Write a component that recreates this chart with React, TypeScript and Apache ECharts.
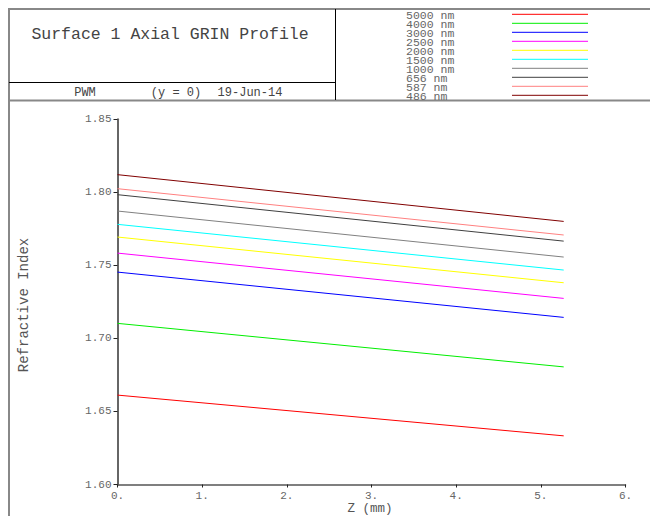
import React, { useEffect, useRef } from "react";
import * as echarts from "echarts";

const wavelengths = ["5000 nm", "4000 nm", "3000 nm", "2500 nm", "2000 nm", "1500 nm", "1000 nm", "656 nm", "587 nm", "486 nm"];
const colors = ["#ff0000", "#00ee00", "#0000ff", "#ff00ff", "#ffff00", "#00ffff", "#808080", "#404040", "#ff8080", "#800000"];
const zValues = [0, 5.27];
const indexAtStart = [1.6612, 1.7103, 1.7454, 1.7584, 1.7694, 1.7781, 1.7872, 1.7984, 1.8025, 1.8121];
const indexAtEnd = [1.6333, 1.6805, 1.7144, 1.7274, 1.7381, 1.7468, 1.7557, 1.7666, 1.7708, 1.7801];

const titleText = "Surface 1 Axial GRIN Profile";
const subtitleParts = ["PWM", "(y = 0)", "19-Jun-14"];
const yAxisTitle = "Refractive Index";
const xAxisTitle = "Z (mm)";

const MONO = "'Liberation Mono', 'DejaVu Sans Mono', monospace";
const TEXT = "#555";

export default function App() {
  const ref = useRef<HTMLDivElement>(null);
  useEffect(() => {
    if (!ref.current) return;
    const chart = echarts.init(ref.current, undefined, { renderer: "svg" });

    const series = wavelengths.map((name, i) => ({
      name,
      type: "line",
      data: [
        [zValues[0], indexAtStart[i]],
        [zValues[1], indexAtEnd[i]],
      ],
      showSymbol: false,
      symbol: "none",
      lineStyle: { color: colors[i], width: 1 },
      itemStyle: { color: colors[i] },
    }));

    const legendGraphics: any[] = [];
    wavelengths.forEach((name, i) => {
      const y = 14.3 + 9 * i;
      legendGraphics.push({
        type: "text",
        x: 406,
        y: y + 0.8,
        style: { text: name, fill: "#666", font: `11.5px ${MONO}`, textAlign: "left", textVerticalAlign: "middle" },
      });
      legendGraphics.push({
        type: "line",
        shape: { x1: 512, y1: y, x2: 588, y2: y },
        style: { stroke: colors[i], lineWidth: 1 },
      });
    });

    const frameColor = "#888";
    const subX = [85, 176, 250];

    chart.setOption({
      animation: false,
      backgroundColor: "#fff",
      grid: { left: 117.5, top: 119.3, right: 24.5, bottom: 31.5, containLabel: false },
      xAxis: {
        type: "value",
        min: 0,
        max: 6,
        interval: 1,
        axisLine: { show: true, lineStyle: { color: "#555", width: 1.5 } },
        axisTick: { show: true, length: 3, inside: false, lineStyle: { color: "#222" } },
        splitLine: { show: false },
        axisLabel: {
          color: "#666",
          fontFamily: MONO,
          fontSize: 11,
          margin: 6,
          formatter: (v: number) => `${v}.`,
        },
      },
      yAxis: {
        type: "value",
        min: 1.6,
        max: 1.85,
        interval: 0.05,
        axisLine: { show: true, lineStyle: { color: "#666", width: 2 } },
        axisTick: { show: true, length: 4, inside: false, lineStyle: { color: "#222" } },
        splitLine: { show: false },
        axisLabel: {
          color: "#666",
          fontFamily: MONO,
          fontSize: 11,
          margin: 6,
          formatter: (v: number) => v.toFixed(2),
        },
      },
      series,
      graphic: [
        { type: "line", shape: { x1: 8, y1: 9, x2: 650, y2: 9 }, style: { stroke: frameColor, lineWidth: 2 } },
        { type: "line", shape: { x1: 9, y1: 8, x2: 9, y2: 516 }, style: { stroke: frameColor, lineWidth: 2 } },
        { type: "line", shape: { x1: 8, y1: 100.5, x2: 650, y2: 100.5 }, style: { stroke: frameColor, lineWidth: 2 } },
        { type: "line", shape: { x1: 335.5, y1: 9, x2: 335.5, y2: 100 }, style: { stroke: "#000", lineWidth: 1 } },
        { type: "line", shape: { x1: 9, y1: 82.5, x2: 335.5, y2: 82.5 }, style: { stroke: "#000", lineWidth: 1 } },
        {
          type: "text",
          x: 170,
          y: 34,
          style: { text: titleText, fill: "#444", font: `16.5px ${MONO}`, textAlign: "center", textVerticalAlign: "middle" },
        },
        ...subtitleParts.map((t, i) => ({
          type: "text",
          x: subX[i],
          y: 92.5,
          style: { text: t, fill: "#444", font: `12px ${MONO}`, textAlign: "center", textVerticalAlign: "middle" },
        })),
        ...legendGraphics,
        {
          type: "text",
          x: 24,
          y: 305,
          rotation: Math.PI / 2,
          style: { text: yAxisTitle, fill: "#555", font: `14px ${MONO}`, textAlign: "center", textVerticalAlign: "middle" },
        },
        {
          type: "text",
          x: 370,
          y: 509,
          style: { text: xAxisTitle, fill: "#555", font: `12.5px ${MONO}`, textAlign: "center", textVerticalAlign: "middle" },
        },
      ],
    });
    return () => chart.dispose();
  }, []);
  return <div ref={ref} style={{ position: "fixed", left: 0, top: 0, width: 650, height: 516 }} />;
}
